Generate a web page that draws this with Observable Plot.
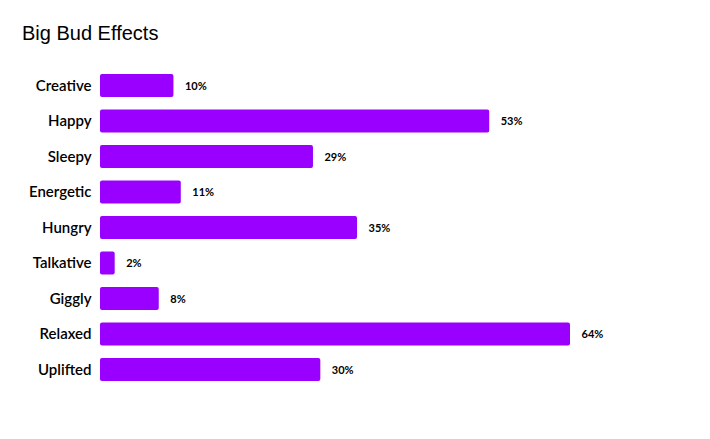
<!DOCTYPE html>
<html><head><meta charset="utf-8">
<script src="https://cdn.jsdelivr.net/npm/d3@7"></script>
<script src="https://cdn.jsdelivr.net/npm/@observablehq/plot@0.6"></script>
<style>
body{margin:0;background:#fff;}
#title{height:60px;box-sizing:border-box;padding:23px 0 0 22px;font:20px/20px "Liberation Sans",Arial,sans-serif;color:#000;}
#chart svg{display:block;}
</style></head>
<body>
<div id="title">Big Bud Effects</div>
<div id="chart"></div>
<script>
const effects = ["Creative","Happy","Sleepy","Energetic","Hungry","Talkative","Giggly","Relaxed","Uplifted"];
const percents = [10,53,29,11,35,2,8,64,30];
const data = effects.map((e,i)=>({effect:e, value:percents[i]}));
const chart = Plot.plot({
  width:710, height:379,
  marginLeft:100, marginRight:22.5, marginTop:7.75, marginBottom:51.75,
  style:{fontFamily:'"Comic Sans MS","Lato",sans-serif', background:"#fff"},
  x:{domain:[0,80], axis:null},
  y:{domain:effects, paddingInner:0.35, paddingOuter:0.175, round:false, label:null},
  marks:[
    Plot.barX(data,{x:"value", y:"effect", fill:"#9900ff", rx:2}),
    Plot.text(data,{x:"value", y:"effect", text:d=>d.value+"%", textAnchor:"start", dx:11, fontSize:11, fontWeight:"bold", fill:"#000"}),
    Plot.axisY({tickSize:0, tickPadding:9, fontSize:15, fontWeight:600, label:null, fill:"#000"})
  ]
});
document.getElementById("chart").appendChild(chart);
</script>
</body></html>
